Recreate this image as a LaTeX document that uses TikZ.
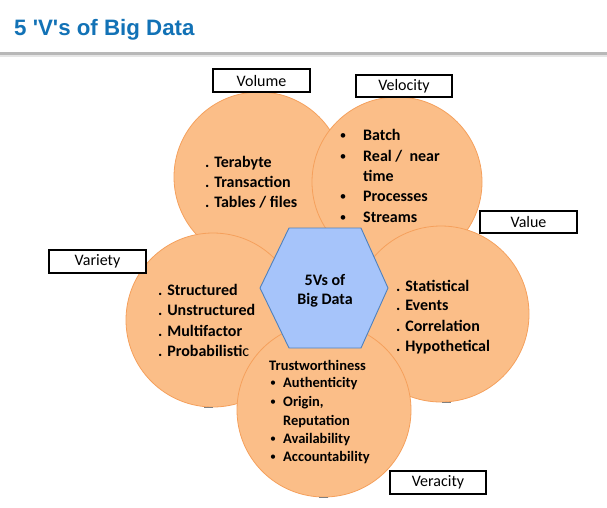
\documentclass[tikz,border=0pt]{standalone}
\usepackage{fontspec}
\setmainfont{Carlito}
\newfontfamily\titlefont{Liberation Sans}
\definecolor{circfill}{RGB}{251,190,136}
\definecolor{circline}{RGB}{245,160,92}
\definecolor{hexfill}{RGB}{166,196,250}
\definecolor{hexline}{RGB}{79,129,189}
\definecolor{titleblue}{RGB}{18,114,182}
\tikzset{
  vcircle/.style={fill=circfill,draw=circline,line width=0.8pt},
  labelbox/.style={draw=black,line width=2pt,fill=white,inner sep=0pt,
    font=\fontsize{16}{19}\selectfont},
  itemtext/.style={anchor=base west,inner sep=0pt,font=\bfseries\fontsize{16}{20}\selectfont},
  smalltext/.style={anchor=base west,inner sep=0pt,font=\bfseries\fontsize{14.5}{18}\selectfont},
  bul/.style={anchor=base,inner sep=0pt,font=\mdseries\fontsize{13}{16}\selectfont},
  smallbul/.style={anchor=base,inner sep=0pt,font=\mdseries\fontsize{12}{15}\selectfont},
  shadowmark/.style={fill=black!50,draw=none}
}
\begin{document}
\begin{tikzpicture}[x=1pt,y=-1pt]
\useasboundingbox (0,0) rectangle (607,507);
\fill[white] (0,0) rectangle (607,507);
% title
\node[anchor=base west,inner sep=0pt,text=titleblue,font=\titlefont\bfseries\fontsize{22.3}{27}\selectfont] (title) at (14,35) {5 'V's of Big Data};
\fill[black!10] (0,53) rectangle (607,57);
\fill[black!28] (0,52) rectangle (607,55);
% circles
\draw[vcircle] (259,177) circle[radius=85];
\draw[vcircle] (397,182) circle[radius=85];
\draw[vcircle] (213,320) circle[radius=87];
\draw[vcircle] (441,314) circle[radius=88];
\draw[vcircle] (324,410) circle[radius=87];
\fill[shadowmark] (204,406.5) rectangle (213,408);
\fill[shadowmark] (442,401.5) rectangle (451,403);
\fill[shadowmark] (319,496.5) rectangle (328,498);
% hexagon
\draw[fill=hexfill,draw=hexline,line width=0.9pt]
  (289,228) -- (361,228) -- (388,288) -- (361,348) -- (289,348) -- (260,288) -- cycle;
\node[anchor=base,inner sep=0pt,font=\bfseries\fontsize{16}{19}\selectfont] (hex1) at (325,285) {5Vs of};
\node[anchor=base,inner sep=0pt,font=\bfseries\fontsize{16}{19}\selectfont] (hex2) at (325,304) {Big Data};
% label boxes
\node[labelbox,minimum width=97pt,minimum height=23pt] (lvol) at (261.5,80.5) {Volume};
\node[labelbox,minimum width=96pt,minimum height=22pt] (lvel) at (404,86) {Velocity};
\node[labelbox,minimum width=97pt,minimum height=23pt] (lvar) at (97.5,261.5) {Variety};
\node[labelbox,minimum width=97pt,minimum height=22pt] (lval) at (528.5,222) {Value};
\node[labelbox,minimum width=96pt,minimum height=23pt] (lver) at (438,482.5) {Veracity};
% volume
\node[itemtext] (vo1) at (205,167) {. Terabyte};
\node[itemtext] (vo2) at (205,187) {. Transaction};
\node[itemtext] (vo3) at (205,207) {. Tables / files};
% velocity
\node[bul] (vb1) at (343,139) {\textbullet};
\node[itemtext] (ve1) at (363,140) {Batch};
\node[bul] (vb2) at (343,160) {\textbullet};
\node[itemtext] (ve2) at (363,161) {Real /\ \ near};
\node[itemtext] (ve2b) at (363,181) {time};
\node[bul] (vb3) at (343,200) {\textbullet};
\node[itemtext] (ve3) at (363,201) {Processes};
\node[bul] (vb4) at (343,221) {\textbullet};
\node[itemtext] (ve4) at (363,222) {Streams};
% variety
\node[itemtext] (va1) at (158,295) {. Structured};
\node[itemtext] (va2) at (158,315) {. Unstructured};
\node[itemtext] (va3) at (158,336) {. Multifactor};
\node[itemtext] (va4) at (158,356) {. Probabilisti{\mdseries c}};
% value
\node[itemtext] (vl1) at (396,291) {. Statistical};
\node[itemtext] (vl2) at (396,310) {. Events};
\node[itemtext] (vl3) at (396,331) {. Correlation};
\node[itemtext] (vl4) at (396,351) {. Hypothetical};
% veracity
\node[smalltext] (vr0) at (269,370) {Trustworthiness};
\node[smallbul] (rb1) at (273,386.5) {\textbullet};
\node[smalltext] (vr1) at (283,387) {Authenticity};
\node[smallbul] (rb2) at (273,405.5) {\textbullet};
\node[smalltext] (vr2) at (283,406) {Origin,};
\node[smalltext] (vr2b) at (283,425) {Reputation};
\node[smallbul] (rb3) at (273,442.5) {\textbullet};
\node[smalltext] (vr3) at (283,443) {Availability};
\node[smallbul] (rb4) at (273,460.5) {\textbullet};
\node[smalltext] (vr4) at (283,461) {Accountability};
\end{tikzpicture}
\end{document}
